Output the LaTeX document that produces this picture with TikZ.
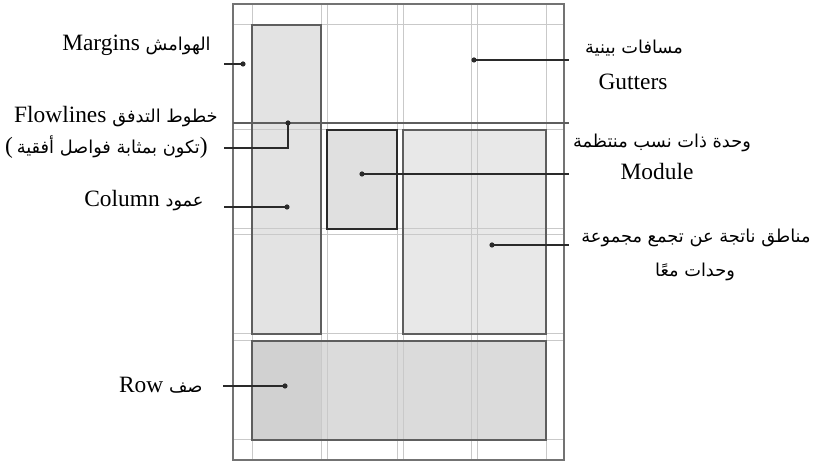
\documentclass[tikz,border=0pt]{standalone}
\usepackage{fontspec}
\setmainfont{Liberation Serif}
\newfontfamily\arabicfont[Script=Arabic,Scale=0.76]{DejaVu Sans}
\TeXXeTstate=1
\newcommand{\artxt}[1]{{\arabicfont\beginR #1\endR}}
\definecolor{gridgray}{HTML}{C9C9C9}
\definecolor{boxgray}{HTML}{5E5E5E}
\definecolor{leadgray}{HTML}{2A2A2A}

\begin{document}
\begin{tikzpicture}[x=0.5pt,y=-0.5pt,
  lbl/.style={inner sep=0pt,font=\fontsize{11.7}{14}\selectfont},
  gridline/.style={gridgray,line width=0.5pt},
  boxline/.style={boxgray,line width=0.7pt},
  leader/.style={leadgray,line width=0.65pt},
  dot/.style={leadgray}]
\useasboundingbox (0,0) rectangle (821,464);
\fill[white] (0,0) rectangle (821,464);

\fill[black!11] (252,25) rectangle (321,334);
\fill[black!12] (327,130) rectangle (397,229);
\fill[black!9] (403,130) rectangle (546,334);
\fill[black!14] (252,341) rectangle (546,440);
\fill[black!18] (252,341) rectangle (321,440);

\foreach \x in {252,321,327,397,403,471,477,546}
  \draw[gridline] (\x,4) -- (\x,460);
\foreach \y in {25,130,229,235,334,341,440}
  \draw[gridline] (233,\y) -- (564,\y);

\draw[boxline] (252,25) rectangle (321,334);
\draw[boxline] (403,130) rectangle (546,334);
\draw[boxline] (252,341) rectangle (546,440);
\draw[leadgray,line width=1pt] (327,130) rectangle (397,229);
\draw[black!55,line width=0.6pt] (233,4) rectangle (564,460);
\draw[boxgray,line width=0.8pt] (233,123) -- (569,123);

\node[lbl,anchor=east] (lblMargins) at (211,45) {Margins \artxt{الهوامش}};
\node[lbl,anchor=east] (lblFlow) at (218,117) {Flowlines \artxt{خطوط التدفق}};
\node[lbl,anchor=east] (lblFlowNote) at (208,147) {(\,\artxt{تكون بمثابة فواصل أفقية})};
\node[lbl,anchor=east] (lblColumn) at (204,201) {Column \artxt{عمود}};
\node[lbl,anchor=east] (lblRow) at (203,385) {Row \artxt{صف}};
\node[lbl] (lblGutterAr) at (634,48) {\artxt{مسافات بينية}};
\node[lbl] (lblGutterEn) at (633,82) {Gutters};
\node[lbl] (lblModuleAr) at (662,143) {\artxt{وحدة ذات نسب منتظمة}};
\node[lbl] (lblModuleEn) at (657,172) {Module};
\node[lbl] (lblAreaAr) at (696,238) {\artxt{مناطق ناتجة عن تجمع مجموعة}};
\node[lbl] (lblAreaEn) at (695,272) {\artxt{وحدات معًا}};

\coordinate (dMargins) at (243,64);   \coordinate (eMargins) at (224,64);
\coordinate (dFlow) at (288,123);     \coordinate (eFlow) at (224,148);
\coordinate (dColumn) at (287,207);   \coordinate (eColumn) at (224,207);
\coordinate (dRow) at (285,386);      \coordinate (eRow) at (223,386);
\coordinate (dGutter) at (474,60);    \coordinate (eGutter) at (569,60);
\coordinate (dModule) at (362,174);   \coordinate (eModule) at (569,174);
\coordinate (dArea) at (492,245);     \coordinate (eArea) at (569,245);

\draw[leader] (eMargins) -- (dMargins);
\draw[leader] (dFlow) |- (eFlow);
\draw[leader] (eColumn) -- (dColumn);
\draw[leader] (eRow) -- (dRow);
\draw[leader] (dGutter) -- (eGutter);
\draw[leader] (dModule) -- (eModule);
\draw[leader] (dArea) -- (eArea);
\foreach \d in {dMargins,dFlow,dColumn,dRow,dGutter,dModule,dArea}
  \fill[dot] (\d) circle (2.6);
\end{tikzpicture}
\end{document}
